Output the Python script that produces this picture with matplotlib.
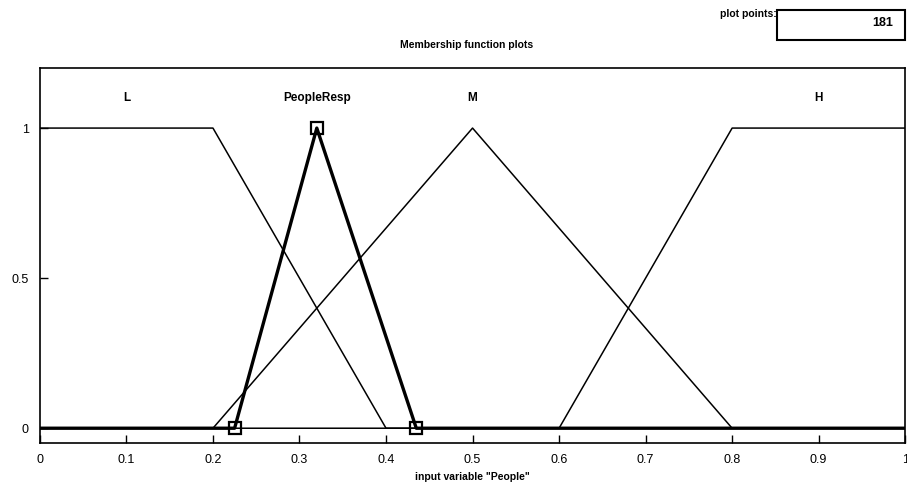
import matplotlib.pyplot as plt

# membership functions of input variable "People" (breakpoints)
L_x = [0.0, 0.2, 0.4, 1.0]
L_y = [1.0, 1.0, 0.0, 0.0]
M_x = [0.0, 0.2, 0.5, 0.8, 1.0]
M_y = [0.0, 0.0, 1.0, 0.0, 0.0]
H_x = [0.0, 0.6, 0.8, 1.0]
H_y = [0.0, 0.0, 1.0, 1.0]
resp_x = [0.0, 0.225, 0.32, 0.435, 1.0]
resp_y = [0.0, 0.0, 1.0, 0.0, 0.0]
resp_pts_x = [0.225, 0.32, 0.435]
resp_pts_y = [0.0, 1.0, 0.0]

mf_names = ['L', 'PeopleResp', 'M', 'H']
label_x = [0.1, 0.32, 0.5, 0.9]

xticks = [0, 0.1, 0.2, 0.3, 0.4, 0.5, 0.6, 0.7, 0.8, 0.9, 1]
xticklabels = ['0', '0.1', '0.2', '0.3', '0.4', '0.5', '0.6', '0.7', '0.8', '0.9', '1']
yticks = [0, 0.5, 1]
yticklabels = ['0', '0.5', '1']

plt.rcParams['font.family'] = ['Liberation Sans', 'DejaVu Sans']

fig = plt.figure(figsize=(9.07, 4.86), dpi=100)
ax = fig.add_axes([0.044, 0.088, 0.954, 0.772])

ax.plot(L_x, L_y, color='black', lw=1.1)
ax.plot(M_x, M_y, color='black', lw=1.1)
ax.plot(H_x, H_y, color='black', lw=1.1)
ax.plot(resp_x, resp_y, color='black', lw=2.4)
ax.plot(resp_pts_x, resp_pts_y, linestyle='none', marker='s', ms=8,
        mfc='none', mec='black', mew=1.6)

for name, lx in zip(mf_names, label_x):
    ax.text(lx, 1.1, name, ha='center', va='center', fontsize=8.5,
            fontweight='bold')

ax.set_xlim(0, 1)
ax.set_ylim(-0.05, 1.2)
ax.set_xticks(xticks)
ax.set_xticklabels(xticklabels)
ax.set_yticks(yticks)
ax.set_yticklabels(yticklabels)
ax.tick_params(direction='in', length=6, width=1, labelsize=9, pad=8)
for s in ax.spines.values():
    s.set_linewidth(1.2)

ax.set_xlabel('input variable "People"', fontsize=7.5, fontweight='bold',
              labelpad=4)

fig.text(0.514, 0.907, 'Membership function plots', ha='center', va='center',
         fontsize=7.5, fontweight='bold')
fig.text(0.825, 0.972, 'plot points:', ha='center', va='center',
         fontsize=7.5, fontweight='bold')
fig.patches.append(plt.Rectangle((0.857, 0.918), 0.141, 0.062,
                                 transform=fig.transFigure, fill=False,
                                 ec='black', lw=1.5))
fig.text(0.985, 0.952, '181', ha='right', va='center', fontsize=9,
         fontweight='bold')

fig.savefig('out.png', dpi=100)
